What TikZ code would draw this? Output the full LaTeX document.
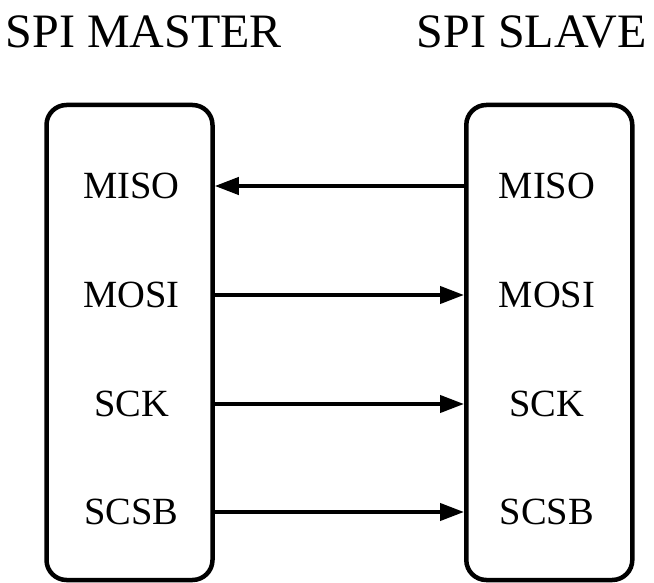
\documentclass[tikz,border=0pt]{standalone}
\usepackage{fontspec}
\setmainfont{Liberation Serif}
\usetikzlibrary{arrows.meta}
\begin{document}
\begin{tikzpicture}[x=1pt,y=-1pt,
  devbox/.style={draw,line width=4.5pt,rounded corners=20pt,minimum height=475pt,minimum width=166pt,inner sep=0pt},
  sig/.style={font=\fontsize{38.5}{40}\selectfont,inner sep=0pt},
  ttl/.style={font=\fontsize{48}{50}\selectfont,inner sep=0pt},
  wire/.style={line width=4pt,-{Triangle[length=24pt,width=17pt]}}]
\useasboundingbox (0,0) rectangle (654,583);
\node[devbox] (master) at (129.5,342.5) {};
\node[devbox] (slave) at (549.3,342.5) {};
\node[ttl,anchor=base] (tm) at (143.8,48) {SPI MASTER};
\node[ttl,anchor=base] (ts) at (531.7,48) {SPI SLAVE};
\node[sig] (m1) at (131.5,186) {MISO};
\node[sig] (m2) at (131.5,295) {MOSI};
\node[sig] (m3) at (131.5,404) {SCK};
\node[sig] (m4) at (131.5,512) {SCSB};
\node[sig] (s1) at (547,186) {MISO};
\node[sig] (s2) at (547,295) {MOSI};
\node[sig] (s3) at (547,404) {SCK};
\node[sig] (s4) at (547,512) {SCSB};
\draw[wire] (s1 -| slave.west) -- (m1 -| master.east);
\draw[wire] (m2 -| master.east) -- (s2 -| slave.west);
\draw[wire] (m3 -| master.east) -- (s3 -| slave.west);
\draw[wire] (m4 -| master.east) -- (s4 -| slave.west);
\end{tikzpicture}
\end{document}
